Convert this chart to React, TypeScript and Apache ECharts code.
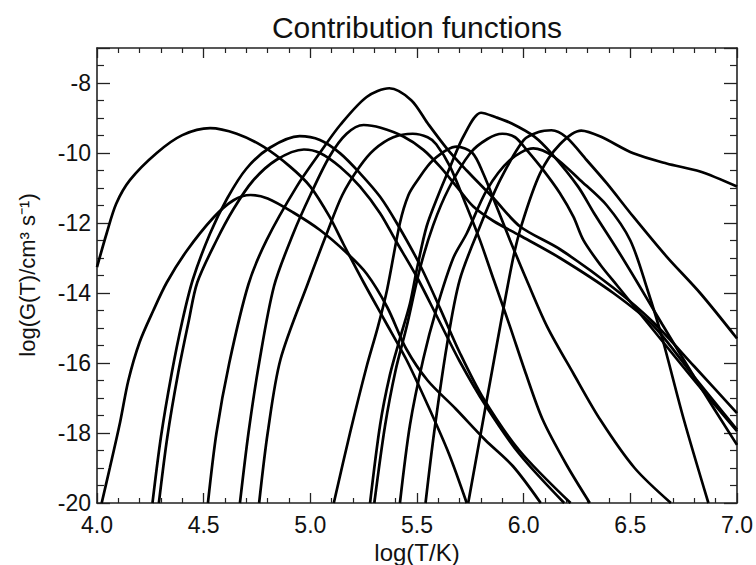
import React, { useEffect, useRef } from "react";
import * as echarts from "echarts";

// log(T/K), log(G(T)) points, one array per contribution function
const curveA = [[4.0,-13.26],[4.045,-12.3],[4.09,-11.45],[4.155,-10.77],[4.28,-10.0],[4.40,-9.49],[4.53,-9.29],[4.655,-9.45],[4.78,-9.82],[4.905,-10.39],[5.0,-10.96],[5.09,-11.82],[5.155,-12.6],[5.25,-13.7],[5.35,-14.8],[5.45,-15.9],[5.55,-17.2],[5.65,-18.6],[5.733,-20]];
const curveB = [[4.022,-20],[4.06,-19.0],[4.108,-17.7],[4.147,-16.5],[4.2,-15.4],[4.264,-14.5],[4.327,-13.7],[4.42,-12.8],[4.545,-11.85],[4.64,-11.35],[4.72,-11.2],[4.8,-11.3],[4.92,-11.7],[5.045,-12.2],[5.17,-12.85],[5.264,-13.45],[5.36,-14.4],[5.45,-15.6],[5.55,-16.5],[5.68,-17.3],[5.82,-18.2],[5.95,-18.95],[6.08,-20]];
const curveC = [[4.26,-20],[4.3,-18.1],[4.35,-16.3],[4.4,-14.8],[4.45,-13.6],[4.53,-12.3],[4.61,-11.3],[4.7,-10.45],[4.81,-9.85],[4.95,-9.52],[5.045,-9.63],[5.14,-10.01],[5.233,-10.58],[5.327,-11.25],[5.405,-12.0],[5.514,-13.2],[5.608,-14.44],[5.7,-15.7],[5.81,-17.0],[5.98,-18.5],[6.22,-20]];
const curveD = [[4.29,-20],[4.33,-18.1],[4.38,-16.3],[4.43,-14.8],[4.47,-13.7],[4.56,-12.5],[4.64,-11.6],[4.73,-10.8],[4.84,-10.2],[4.97,-9.9],[5.045,-10.0],[5.14,-10.4],[5.233,-10.96],[5.327,-11.72],[5.4,-12.5],[5.5,-13.55],[5.6,-14.75],[5.7,-15.95],[5.82,-17.2],[5.98,-18.6],[6.19,-20]];
const curveE = [[4.67,-20],[4.71,-18.0],[4.76,-16.0],[4.83,-13.8],[4.92,-12.3],[5.0,-11.2],[5.09,-10.1],[5.17,-9.45],[5.25,-9.2],[5.33,-9.28],[5.436,-9.53],[5.53,-9.91],[5.608,-10.39],[5.686,-10.96],[5.764,-11.53],[5.86,-11.95],[5.98,-12.35],[6.17,-13.0],[6.42,-14.0],[6.61,-14.95],[6.8,-16.4],[7.0,-17.9]];
const curveF = [[4.52,-20],[4.56,-18.0],[4.62,-16.0],[4.71,-13.75],[4.795,-12.49],[4.936,-10.96],[5.05,-9.95],[5.14,-9.2],[5.264,-8.4],[5.37,-8.15],[5.473,-8.49],[5.55,-9.15],[5.645,-9.91],[5.733,-10.5],[5.86,-11.3],[5.983,-12.1],[6.17,-12.75],[6.42,-13.85],[6.61,-14.85],[6.8,-16.1],[7.0,-17.43]];
const curveG = [[4.76,-20],[4.8,-18.0],[4.86,-15.9],[4.99,-13.7],[5.077,-12.3],[5.15,-11.2],[5.23,-10.4],[5.3,-9.9],[5.389,-9.55],[5.48,-9.45],[5.55,-9.55],[5.59,-9.75],[5.655,-10.39],[5.733,-11.53],[5.795,-12.49],[5.86,-13.63],[5.936,-14.96],[6.01,-16.3],[6.09,-17.63],[6.2,-18.9],[6.31,-20]];
const curveH = [[5.11,-20],[5.186,-18.0],[5.264,-16.1],[5.317,-14.96],[5.36,-13.9],[5.42,-12.0],[5.46,-11.2],[5.5,-10.8],[5.576,-10.2],[5.686,-9.82],[5.76,-10.0],[5.81,-10.58],[5.873,-11.53],[5.936,-12.49],[6.014,-13.63],[6.11,-14.96],[6.233,-16.3],[6.36,-17.63],[6.52,-19.0],[6.69,-20]];
const curveI = [[5.28,-20],[5.327,-17.77],[5.373,-16.34],[5.42,-15.3],[5.467,-14.3],[5.5,-13.3],[5.545,-12.1],[5.6,-11.2],[5.655,-10.4],[5.72,-9.5],[5.8,-8.85],[5.87,-8.98],[5.942,-9.15],[6.05,-9.53],[6.13,-10.01],[6.255,-10.96],[6.33,-11.72],[6.44,-12.77],[6.535,-13.72],[6.65,-14.9],[6.82,-16.6],[7.0,-18.34]];
const curveJ = [[5.3,-20],[5.35,-17.8],[5.4,-16.2],[5.45,-15.0],[5.514,-13.3],[5.576,-12.06],[5.65,-11.0],[5.75,-10.0],[5.83,-9.6],[5.9,-9.45],[5.96,-9.55],[6.014,-9.91],[6.092,-10.49],[6.17,-11.15],[6.233,-11.82],[6.28,-12.49],[6.36,-13.2],[6.44,-13.8],[6.6,-15.0],[6.8,-16.5],[7.0,-17.95]];
const curveK = [[5.42,-20],[5.467,-17.77],[5.53,-15.87],[5.592,-14.44],[5.67,-13.0],[5.733,-12.3],[5.827,-11.06],[5.936,-10.2],[6.045,-9.87],[6.14,-10.1],[6.264,-10.77],[6.39,-11.5],[6.5,-12.5],[6.58,-13.9],[6.65,-15.3],[6.75,-17.6],[6.866,-20]];
const curveL = [[5.54,-20],[5.58,-18.0],[5.64,-15.5],[5.7,-13.63],[5.795,-12.1],[5.89,-10.77],[6.0,-9.63],[6.07,-9.4],[6.13,-9.35],[6.2,-9.55],[6.295,-10.2],[6.39,-10.87],[6.514,-11.82],[6.67,-12.96],[6.827,-14.0],[7.0,-15.3]];
const curveM = [[5.74,-20],[5.833,-16.86],[5.944,-13.2],[5.99,-12.06],[6.077,-10.58],[6.17,-9.75],[6.27,-9.36],[6.36,-9.53],[6.514,-10.01],[6.67,-10.3],[6.827,-10.53],[7.0,-10.96]];

const curves = [curveA, curveB, curveC, curveD, curveE, curveF, curveG, curveH, curveI, curveJ, curveK, curveL, curveM];

const titleText = "Contribution functions";
const xName = "log(T/K)";
const yName = "log(G(T)/cm\u00B3 s\u207B\u00B9)";
const xMin = 4.0, xMax = 7.0, xStep = 0.5;
const yMin = -20, yMax = -7, yStep = 2;

const FONT = "Liberation Sans, Arial, Helvetica, sans-serif";
const AXIS_COLOR = "#222";

export default function App() {
  const ref = useRef<HTMLDivElement>(null);
  useEffect(() => {
    if (!ref.current) return;
    const chart = echarts.init(ref.current, undefined, { renderer: "svg" });
    const axisLine = { show: true, onZero: false, lineStyle: { color: AXIS_COLOR, width: 1.6 } };
    const xTicks = {
      axisTick: { show: true, inside: true, length: 10, lineStyle: { color: AXIS_COLOR, width: 1.3 } },
      minorTick: { show: true, splitNumber: 5, length: 5, lineStyle: { color: AXIS_COLOR, width: 1.2 } },
    };
    const yTicks = {
      axisTick: { show: true, inside: true, length: 13, lineStyle: { color: AXIS_COLOR, width: 1.3 } },
      minorTick: { show: true, splitNumber: 4, length: 7, lineStyle: { color: AXIS_COLOR, width: 1.2 } },
    };
    const option: any = {
      animation: false,
      backgroundColor: "#fff",
      grid: { left: 97, right: 19, top: 48, bottom: 62, containLabel: false },
      xAxis: [
        {
          type: "value", min: xMin, max: xMax, interval: xStep, position: "bottom",
          axisLine, splitLine: { show: false }, ...xTicks,
          axisLabel: { color: "#111", fontFamily: FONT, fontSize: 23, margin: 10, formatter: (v: number) => v.toFixed(1) },
        },
        {
          type: "value", min: xMin, max: xMax, interval: xStep, position: "top",
          axisLine, splitLine: { show: false }, ...xTicks,
          axisLabel: { show: false },
        },
      ],
      yAxis: [
        {
          type: "value", min: yMin, max: yMax, interval: yStep, position: "left",
          axisLine, splitLine: { show: false }, ...yTicks,
          axisLabel: { color: "#111", fontFamily: FONT, fontSize: 23, margin: 6, showMaxLabel: false },
        },
        {
          type: "value", min: yMin, max: yMax, interval: yStep, position: "right",
          axisLine, splitLine: { show: false }, ...yTicks,
          axisLabel: { show: false },
        },
      ],
      series: curves.map((c, i) => ({
        name: "c" + i,
        type: "line",
        xAxisIndex: 0,
        yAxisIndex: 0,
        data: c,
        smooth: 0.3,
        showSymbol: false,
        clip: true,
        lineStyle: { color: "#000", width: 2.7 },
        z: 3,
      })),
      graphic: [
        {
          type: "text", x: 417, y: 27,
          style: { text: titleText, fontFamily: FONT, fontSize: 30, fill: "#111", textAlign: "center", textVerticalAlign: "middle" },
        },
        {
          type: "text", x: 417, y: 552,
          style: { text: xName, fontFamily: FONT, fontSize: 24, fill: "#111", textAlign: "center", textVerticalAlign: "middle" },
        },
        {
          type: "text", x: 27, y: 275, rotation: Math.PI / 2,
          style: { text: yName, fontFamily: FONT, fontSize: 22, fill: "#111", textAlign: "center", textVerticalAlign: "middle" },
        },
      ],
    };
    chart.setOption(option);
    return () => chart.dispose();
  }, []);
  return <div ref={ref} style={{ position: "fixed", left: 0, top: 0, width: 756, height: 565, background: "#fff" }} />;
}
